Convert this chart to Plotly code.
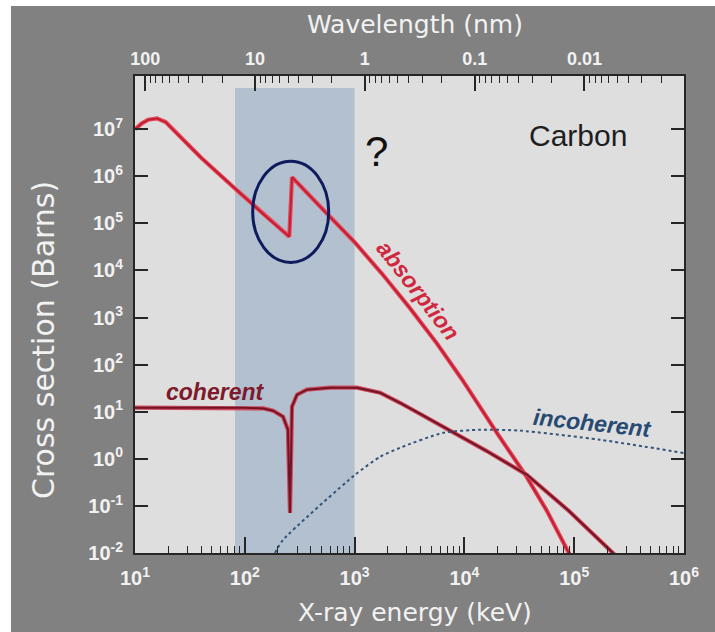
import plotly.graph_objects as go

# ---- cross-section data for carbon (energy, barns) ----
abs_energy = [10, 11.48, 13.18, 15.85, 19.05, 22.39, 39.81, 81.28, 158.5, 254.1,
              269.2, 501.2, 1000, 1778, 3162, 5623, 9550, 19500, 36310, 56230,
              89130, 100000]
abs_sigma = [1.0e7, 1.318e7, 1.585e7, 1.698e7, 1.413e7, 9.55e6, 2.51e6, 5.50e5,
             1.35e5, 5.25e4, 9.55e5, 2.09e5, 3.98e4, 8510, 1622, 282, 47.9, 3.72,
             0.437, 0.0794, 0.01, 0.00603]

coh_energy = [10, 100, 148, 181, 223, 247, 258, 269, 299, 368, 597, 1052, 1702,
              2588, 4000, 7870, 15850, 37150, 89100, 225400, 251200]
coh_sigma = [12.2, 12.2, 11.75, 10.5, 7.83, 4.14, 0.071, 12.8, 23.0, 29.4, 32.4,
             32.4, 25.4, 15.5, 8.9, 3.75, 1.48, 0.457, 0.079, 0.01, 0.0079]

inc_energy = [188, 223, 1000, 1702, 2588, 6380, 13870, 31620, 171800, 1000000]
inc_sigma = [0.01, 0.019, 0.45, 1.10, 1.71, 3.57, 4.14, 3.98, 2.54, 1.33]

# ---- axis ticks ----
energy_ticks = [10, 100, 1000, 10000, 100000, 1000000]
energy_labels = ["10<sup>1</sup>", "10<sup>2</sup>", "10<sup>3</sup>",
                 "10<sup>4</sup>", "10<sup>5</sup>", "10<sup>6</sup>"]
sigma_ticks = [1e-2, 1e-1, 1, 10, 100, 1e3, 1e4, 1e5, 1e6, 1e7]
sigma_labels = ["10<sup>-2</sup>", "10<sup>-1</sup>", "10<sup>0</sup>",
                "10<sup>1</sup>", "10<sup>2</sup>", "10<sup>3</sup>",
                "10<sup>4</sup>", "10<sup>5</sup>", "10<sup>6</sup>",
                "10<sup>7</sup>"]
wavelength_ticks = [100, 10, 1, 0.1, 0.01]
wavelength_labels = ["100", "10", "1", "0.1", "0.01"]

HC = 1239.84  # energy * wavelength

energy_minor = [m * 10 ** k for k in range(1, 6) for m in range(2, 10)]
wl_minor = [m * 10 ** k for k in range(-3, 2) for m in range(2, 10)]
top_major = [HC / w for w in wavelength_ticks]
top_minor = [HC / w for w in wl_minor if 10 <= HC / w <= 1e6]

AXIS = "#262626"
LABEL = "#f2f2f2"

fig = go.Figure()

# absorption (red)
fig.add_trace(go.Scatter(x=abs_energy, y=abs_sigma, mode="lines",
                         line=dict(color="#e44a5c", width=4.2),
                         hoverinfo="skip"))
fig.add_trace(go.Scatter(x=abs_energy, y=abs_sigma, mode="lines",
                         line=dict(color="#c21c33", width=1.8),
                         name="absorption"))
# coherent (dark red)
fig.add_trace(go.Scatter(x=coh_energy, y=coh_sigma, mode="lines",
                         line=dict(color="#d2475a", width=4.2),
                         hoverinfo="skip"))
fig.add_trace(go.Scatter(x=coh_energy, y=coh_sigma, mode="lines",
                         line=dict(color="#6e1526", width=2),
                         name="coherent"))
# incoherent (dotted blue)
fig.add_trace(go.Scatter(x=inc_energy, y=inc_sigma, mode="lines",
                         line=dict(color="#34547a", width=2, dash="dot",
                                   shape="spline", smoothing=0.6),
                         name="incoherent"))
# carrier for the wavelength axis
fig.add_trace(go.Scatter(x=[10, 1e6], y=[1e-5, 1e-5], xaxis="x2",
                         mode="lines", line=dict(width=0), hoverinfo="skip"))

tick_font = dict(family="Liberation Sans", size=20, color=LABEL, weight="bold")
top_font = dict(family="Liberation Sans", size=18, color=LABEL, weight="bold")

fig.update_layout(
    width=715, height=632,
    margin=dict(l=135, r=31, t=76, b=79),
    paper_bgcolor="#818181",
    plot_bgcolor="#dedede",
    showlegend=False,
    xaxis=dict(
        type="log", range=[1, 6], showgrid=False, zeroline=False,
        showline=True, linecolor=AXIS, linewidth=2, mirror=True,
        ticks="inside", ticklen=16, tickwidth=1.5, tickcolor=AXIS,
        tickmode="array", tickvals=energy_ticks, ticktext=energy_labels,
        tickfont=tick_font, ticklabelstandoff=6,
        minor=dict(ticks="inside", ticklen=7, tickwidth=1.2, tickcolor=AXIS,
                   tickmode="array", tickvals=energy_minor, showgrid=False),
    ),
    xaxis2=dict(
        type="log", range=[1, 6], overlaying="x", side="top",
        showgrid=False, zeroline=False, showline=False,
        ticks="inside", ticklen=15, tickwidth=1.5, tickcolor=AXIS,
        tickmode="array", tickvals=top_major, ticktext=wavelength_labels,
        tickfont=top_font, ticklabelstandoff=6,
        minor=dict(ticks="inside", ticklen=7, tickwidth=1.2, tickcolor=AXIS,
                   tickmode="array", tickvals=top_minor, showgrid=False),
    ),
    yaxis=dict(
        type="log", range=[-2, 8.13], showgrid=False, zeroline=False,
        showline=True, linecolor=AXIS, linewidth=2, mirror="ticks",
        ticks="inside", ticklen=13, tickwidth=1.5, tickcolor=AXIS,
        tickmode="array", tickvals=sigma_ticks, ticktext=sigma_labels,
        tickfont=tick_font, ticklabelstandoff=6,
    ),
)

# highlighted soft x-ray band and the carbon K-edge marker
fig.add_shape(type="rect", xref="x", yref="paper", x0=81.5, x1=1000,
              y0=0, y1=0.975, fillcolor="#b2c0d0", line=dict(width=0),
              layer="below")
fig.add_shape(type="circle", xref="x", yref="y", x0=118, x1=581,
              y0=1.48e4, y1=2.09e6, line=dict(color="#0f1b5c", width=3))

# white page edge
fig.add_shape(type="rect", xref="paper", yref="paper", x0=-0.3, x1=-0.2259,
              y0=-0.3, y1=1.3, fillcolor="white", line=dict(width=0),
              layer="above")
fig.add_shape(type="rect", xref="paper", yref="paper", x0=-0.3, x1=1.2,
              y0=1.1468, y1=1.3, fillcolor="white", line=dict(width=0),
              layer="above")

title_font = dict(family="DejaVu Sans", size=25, color=LABEL)
curve_font = dict(family="Liberation Sans", size=23, weight="bold",
                  style="italic")


def label(text, x, y, font, angle=0):
    fig.add_annotation(text=text, xref="paper", yref="paper", x=x, y=y,
                       xanchor="center", yanchor="middle", showarrow=False,
                       textangle=angle, font=font)


label("Wavelength (nm)", 0.51, 1.107, title_font)
label("X-ray energy (keV)", 0.51, -0.1237, title_font)
label("Cross section (Barns)", -0.1676, 0.4465,
      dict(family="DejaVu Sans", size=30, color=LABEL), angle=-90)
label("Carbon", 0.807, 0.876,
      dict(family="Liberation Sans", size=30, color="#1e1e1e"))
label("?", 0.439, 0.8407,
      dict(family="Liberation Sans", size=42, color="#111111"))
label("coherent", 0.1457, 0.3375, dict(curve_font, color="#7d1a2c"))
label("absorption", 0.5155, 0.5514, dict(curve_font, color="#d0283f"), angle=52)
label("incoherent", 0.834, 0.2725, dict(curve_font, color="#274a72"), angle=6)

fig.write_html("out.html")
